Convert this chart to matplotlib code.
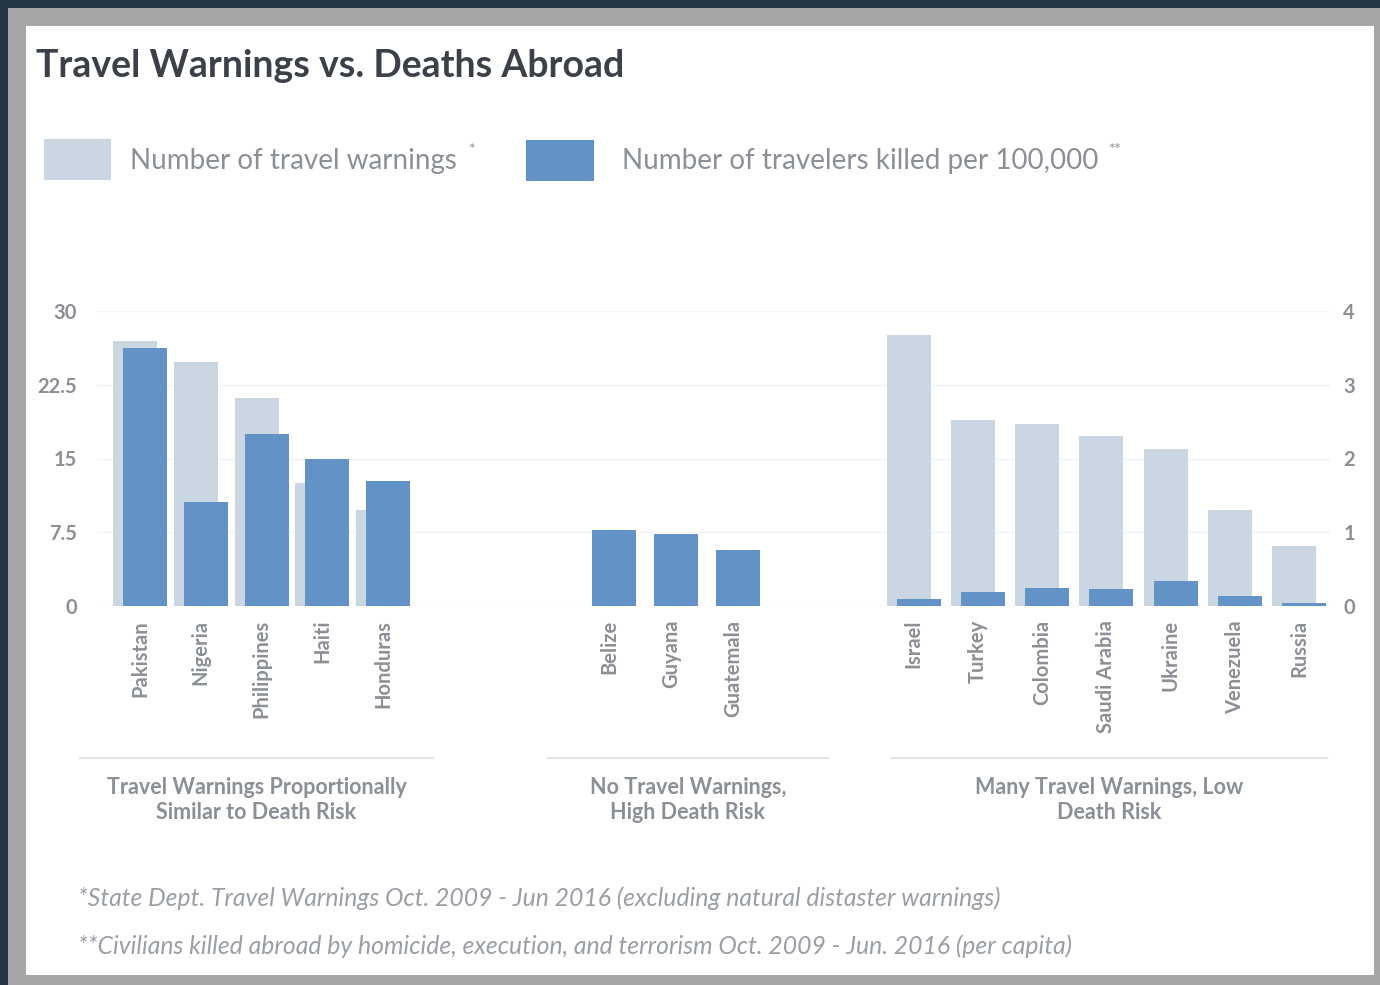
import numpy as np
import matplotlib
matplotlib.use('Agg')
import matplotlib.pyplot as plt
from matplotlib.patches import Rectangle
from matplotlib.lines import Line2D

plt.rcParams['font.family'] = ['Lato', 'DejaVu Sans']

# Daten
grp1_countries = ['Pakistan', 'Nigeria', 'Philippines', 'Haiti', 'Honduras']
grp1_warnings = [26.9, 24.8, 21.2, 12.5, 9.8]
grp1_killed = [3.50, 1.41, 2.33, 1.99, 1.69]

grp2_countries = ['Belize', 'Guyana', 'Guatemala']
grp2_warnings = [0, 0, 0]
grp2_killed = [1.03, 0.97, 0.76]

grp3_countries = ['Israel', 'Turkey', 'Colombia', 'Saudi Arabia', 'Ukraine',
                  'Venezuela', 'Russia']
grp3_warnings = [27.6, 18.9, 18.5, 17.3, 16.0, 9.8, 6.1]
grp3_killed = [0.09, 0.19, 0.25, 0.23, 0.34, 0.14, 0.045]

group_titles = ['Travel Warnings Proportionally\nSimilar to Death Risk',
                'No Travel Warnings,\nHigh Death Risk',
                'Many Travel Warnings, Low\nDeath Risk']

W, H = 1380, 985
light = '#cbd6e3'
dark = '#6392c6'
grey_txt = '#8b8f96'


def fx(x):
    return x / W


def fy(y):
    return 1 - y / H


fig = plt.figure(figsize=(W / 100, H / 100), dpi=100)
fig.patch.set_facecolor('#253646')
fig.patches.append(Rectangle((fx(8), 0), 1 - fx(8), fy(8), transform=fig.transFigure,
                             facecolor='#a6a6a6', edgecolor='none', zorder=-3))
fig.patches.append(Rectangle((fx(26), fy(975)), fx(1374 - 26), (975 - 26) / H,
                             transform=fig.transFigure, facecolor='white',
                             edgecolor='none', zorder=-2))

# Achsen (x-Achse in Pixel-Einheiten)
x_left, x_right = 97, 1330
y_top, y_bot = 311, 606
ax = fig.add_axes([fx(x_left), fy(y_bot), fx(x_right - x_left), (y_bot - y_top) / H])
ax.set_xlim(x_left, x_right)
ax.set_ylim(0, 30)
ax2 = ax.twinx()
ax2.set_ylim(0, 4)

# Gruppenlayout: erste Mitte, Abstand, Linie
layout = [(140, 60.75, 80, 433), (609, 62, 548, 828), (913.5, 64.3, 891, 1327)]
groups = [(grp1_countries, grp1_warnings, grp1_killed),
          (grp2_countries, grp2_warnings, grp2_killed),
          (grp3_countries, grp3_warnings, grp3_killed)]

bw = 44
ticks, ticklabels = [], []
for (names, warn, killed), (x0, step, l0, l1), title in zip(groups, layout, group_titles):
    xs = x0 + step * np.arange(len(names))
    ax.bar(xs - 5, warn, width=bw, color=light, zorder=2)
    ax2.bar(xs + 5, killed, width=bw, color=dark, zorder=3)
    ticks += list(xs)
    ticklabels += names
    fig.add_artist(Line2D([fx(l0), fx(l1)], [fy(758), fy(758)], color='#e3e3e3', lw=1.5))
    fig.text(fx((l0 + l1) / 2), fy(800), title, ha='center', va='center',
             fontsize=15.5, color=grey_txt, fontweight='bold', linespacing=1.2)

ax.set_xticks(ticks)
ax.set_xticklabels(ticklabels, rotation=90, fontsize=14.5, color=grey_txt,
                   fontweight='bold')
ax.tick_params(axis='x', length=0, pad=10)

ax.set_yticks([0, 7.5, 15, 22.5, 30])
ax.set_yticklabels(['0', '7.5', '15', '22.5', '30'])
ax.tick_params(axis='y', length=0, pad=14.5, labelsize=14.5, labelcolor=grey_txt)
ax2.set_yticks([0, 1, 2, 3, 4])
ax2.tick_params(axis='y', length=0, pad=9.5, labelsize=14.5, labelcolor=grey_txt)
for t in ax.get_yticklabels() + ax2.get_yticklabels():
    t.set_fontweight('bold')

ax.grid(axis='y', color='#f3f3f3', lw=1, zorder=0)
ax.set_axisbelow(True)
for a in (ax, ax2):
    for s in a.spines.values():
        s.set_visible(False)
ax.patch.set_visible(False)
ax2.patch.set_visible(False)

# Titel und Legende
fig.text(fx(36), fy(66), 'Travel Warnings vs. Deaths Abroad', fontsize=27,
         fontweight='bold', color='#3b4049', va='center', ha='left')

fig.patches.append(Rectangle((fx(44), fy(180)), fx(67), 41 / H, transform=fig.transFigure,
                             facecolor=light, edgecolor='none'))
fig.text(fx(130), fy(161), 'Number of travel warnings', fontsize=20, color=grey_txt,
         va='center', ha='left')
fig.text(fx(468), fy(150), '*', fontsize=11, color=grey_txt, va='center', ha='left')
fig.patches.append(Rectangle((fx(526), fy(181)), fx(68), 41 / H, transform=fig.transFigure,
                             facecolor=dark, edgecolor='none'))
fig.text(fx(622), fy(161), 'Number of travelers killed per 100,000', fontsize=20,
         color=grey_txt, va='center', ha='left')
fig.text(fx(1108), fy(150), '**', fontsize=11, color=grey_txt, va='center', ha='left')

# Fussnoten
fig.text(fx(78), fy(898), '*State Dept. Travel Warnings Oct. 2009 - Jun 2016 (excluding natural distaster warnings)',
         fontsize=17.8, style='italic', color='#9a9ea5', va='center', ha='left')
fig.text(fx(78), fy(946), '**Civilians killed abroad by homicide, execution, and terrorism Oct. 2009 - Jun. 2016 (per capita)',
         fontsize=17.8, style='italic', color='#9a9ea5', va='center', ha='left')

fig.savefig('out.png', dpi=100, facecolor=fig.get_facecolor())
